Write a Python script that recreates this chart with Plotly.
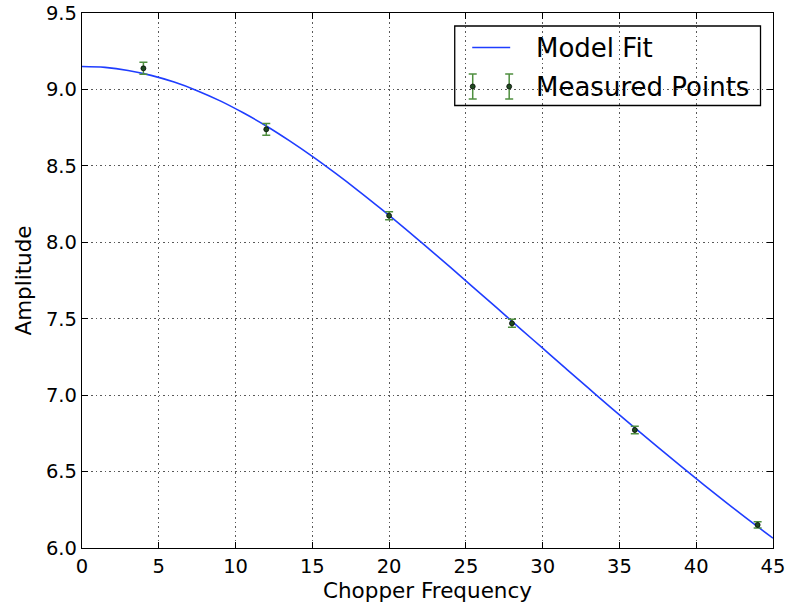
import plotly.graph_objects as go

# Measured chopper-frequency sweep
freq = [4, 12, 20, 28, 36, 44]
amplitude = [9.138, 8.739, 8.174, 7.470, 6.772, 6.151]
amp_err = [0.039, 0.038, 0.026, 0.026, 0.024, 0.020]

# Fitted model curve, sampled along the frequency axis
fit_freq = [0, 1.5, 3, 4.5, 6, 7.5, 9, 10.5, 12, 13.5, 15, 16.5, 18, 19.5,
            21, 22.5, 24, 25.5, 27, 28.5, 30, 31.5, 33, 34.5, 36, 37.5, 39,
            40.5, 42, 43.5, 45]
fit_amp = [9.150, 9.144, 9.124, 9.092, 9.048, 8.992, 8.925, 8.847, 8.761,
           8.665, 8.562, 8.452, 8.337, 8.217, 8.093, 7.965, 7.836, 7.704,
           7.572, 7.439, 7.307, 7.175, 7.044, 6.914, 6.786, 6.660, 6.535,
           6.413, 6.294, 6.177, 6.064]

x_ticks = [0, 5, 10, 15, 20, 25, 30, 35, 40, 45]
y_ticks = [6.0, 6.5, 7.0, 7.5, 8.0, 8.5, 9.0, 9.5]
y_tick_text = [f"{v:.1f}" for v in y_ticks]

W, H = 788, 603
M_L, M_R, M_T, M_B = 81.5, 15, 13, 55
PW, PH = W - M_L - M_R, H - M_T - M_B

FONT = "DejaVu Sans"
LINE_BLUE = "#1f3dff"
BAR_GREEN = "#4f8f3f"
DOT_GREEN = "#1f4a1f"


def px_x(px):
    return (px - M_L) / PW


def px_y(py):
    return (H - M_B - py) / PH


fig = go.Figure()

fig.add_trace(go.Scatter(
    x=fit_freq, y=fit_amp, mode="lines", line_shape="spline",
    line=dict(color=LINE_BLUE, width=1.6), showlegend=False,
))

fig.add_trace(go.Scatter(
    x=freq, y=amplitude, mode="markers",
    marker=dict(color=DOT_GREEN, size=5, line=dict(color="black", width=0.7)),
    error_y=dict(type="data", array=amp_err, color=BAR_GREEN, thickness=1.5,
                 width=4),
    showlegend=False,
))

# Legend drawn on an overlay axis spanning the plot area (0..1 both ways)
fig.add_trace(go.Scatter(
    x=[px_x(472), px_x(510)], y=[px_y(47.5), px_y(47.5)], mode="lines",
    line=dict(color=LINE_BLUE, width=1.6), xaxis="x2", yaxis="y2",
    showlegend=False, hoverinfo="skip",
))
fig.add_trace(go.Scatter(
    x=[px_x(472.5), px_x(509)], y=[px_y(86.5), px_y(86.5)], mode="markers",
    marker=dict(color=DOT_GREEN, size=5, line=dict(color="black", width=0.7)),
    error_y=dict(type="constant", value=12.6 / PH, color=BAR_GREEN,
                 thickness=1.5, width=4),
    xaxis="x2", yaxis="y2", showlegend=False, hoverinfo="skip",
))

fig.add_shape(type="rect", xref="x2", yref="y2",
              x0=px_x(454.5), x1=px_x(760.5), y0=px_y(26), y1=px_y(105.5),
              line=dict(color="black", width=1.3), fillcolor="white",
              layer="below")

for label, py in [("Model Fit", 47.5), ("Measured Points", 86.5)]:
    fig.add_annotation(x=px_x(533.5), y=px_y(py), xref="x2", yref="y2",
                       text=label, showarrow=False, xanchor="left",
                       yanchor="middle",
                       font=dict(family=FONT, size=26, color="black"))

axis_common = dict(
    showline=True, linecolor="black", linewidth=1.3, mirror="ticks",
    ticks="inside", ticklen=6, tickwidth=1, tickcolor="black",
    showgrid=True, gridcolor="rgba(0,0,0,0.65)", gridwidth=1,
    griddash="1.5px,3px", zeroline=False, automargin=False,
    tickfont=dict(family=FONT, size=19.5, color="black"),
)

fig.update_layout(
    width=W, height=H,
    margin=dict(l=M_L, r=M_R, t=M_T, b=M_B, pad=0),
    paper_bgcolor="white", plot_bgcolor="white",
    xaxis=dict(range=[0, 45], tickvals=x_ticks,
               title=dict(text="Chopper Frequency", standoff=2,
                          font=dict(family=FONT, size=21.5, color="black")),
               **axis_common),
    yaxis=dict(range=[6.0, 9.5], tickvals=y_ticks, ticktext=y_tick_text,
               title=dict(text="Amplitude", standoff=8,
                          font=dict(family=FONT, size=21.5, color="black")),
               **axis_common),
    xaxis2=dict(overlaying="x", range=[0, 1], visible=False, fixedrange=True),
    yaxis2=dict(overlaying="y", range=[0, 1], visible=False, fixedrange=True),
)

fig.write_html("out.html")
